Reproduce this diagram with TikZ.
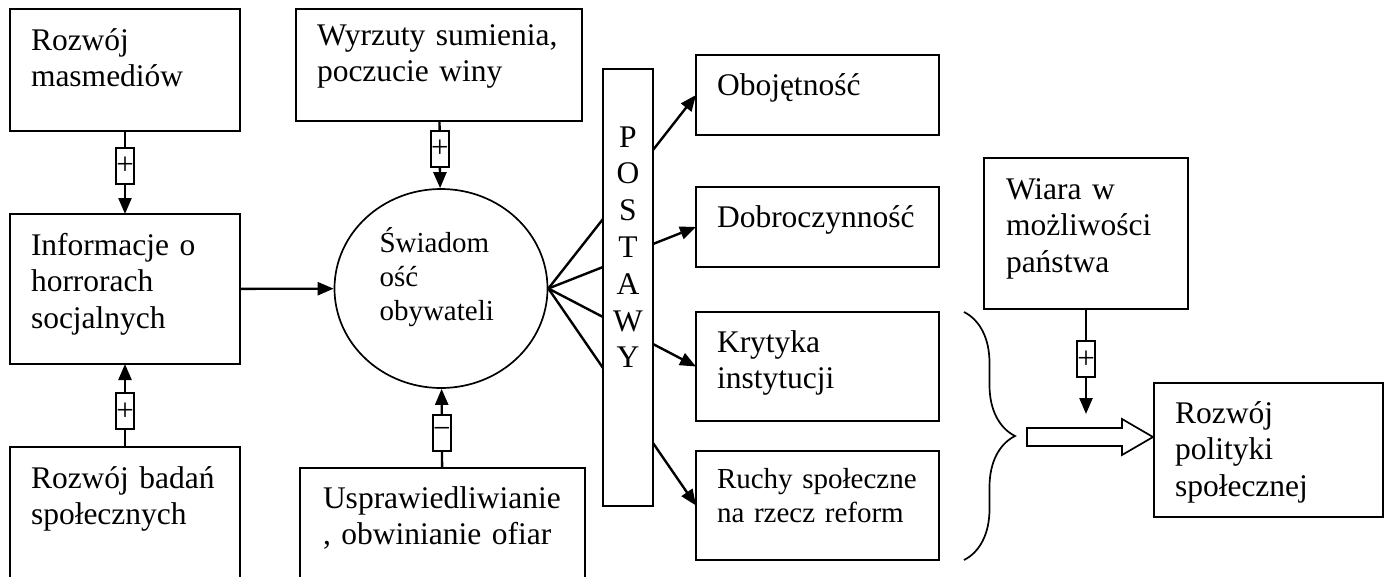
\documentclass[tikz,border=0pt]{standalone}
\usepackage{fontspec}
\setmainfont{Liberation Serif}
\usetikzlibrary{arrows.meta,shapes.geometric,decorations.pathreplacing}

\newcommand{\boxfnt}{\fontsize{31.5}{36.5}\selectfont}
\newcommand{\circfnt}{\fontsize{29}{34}\selectfont}
\newcommand{\signfnt}{\fontsize{31}{31}\selectfont}

\tikzset{
  box/.style  = {draw, line width=2.2pt, anchor=north west, align=left,
                 inner xsep=21pt, inner ysep=0pt, outer sep=0pt, font=\boxfnt},
  sign/.style = {draw, fill=white, line width=2pt, minimum width=18pt,
                 minimum height=36pt, inner sep=0pt, font=\signfnt},
  link/.style = {line width=2.4pt, -{Triangle[length=16pt,width=13pt]}}
}

\begin{document}
\begin{tikzpicture}[x=1pt, y=-1pt]
	\useasboundingbox (0,0) rectangle (1384,576);

	% Left column
	\node[box, text width=188pt, text height=41pt, text depth=81pt]  (masmed) at (10,9)   {Rozwój\\masmediów};
	\node[box, text width=188pt, text height=41pt, text depth=109pt] (info)   at (10,214) {Informacje o\\horrorach\\socjalnych};
	\node[box, text width=188pt, text height=41pt, text depth=119pt] (badan)  at (10,447) {Rozwój badań\\społecznych};

	% Middle column
	\node[box, text width=244pt, text height=36pt, text depth=76pt] (wyrzuty) at (296,9) {Wyrzuty sumienia,\\poczucie winy};
	\node[box, inner xsep=23pt, text width=239pt, text height=40pt, text depth=100pt] (uspr) at (300,468) {Usprawiedliwianie\\, obwinianie ofiar};
	\node[ellipse, draw, line width=1.7pt, minimum width=213pt, minimum height=199pt,
	      inner sep=0pt, align=left, text width=123pt, text height=30pt, text depth=103pt,
	      font=\circfnt] (circ) at (441,288.5) {Świadom\\ość\\obywateli};

	% Postawy
	\node[box, align=center, inner xsep=0pt, text width=50pt, text height=78pt, text depth=359pt,
	      font=\fontsize{31.5}{36.8}\selectfont] (postawy) at (603,69) {P\\O\\S\\T\\A\\W\\Y};

	% Right column
	\node[box, text width=201pt, text height=40pt, text depth=40pt] (obojet)  at (696,55)  {Obojętność};
	\node[box, text width=201pt, text height=40pt, text depth=40pt] (dobro)   at (696,187) {Dobroczynność};
	\node[box, text width=201pt, text height=40pt, text depth=69pt] (krytyka) at (696,312) {Krytyka\\instytucji};
	\node[box, text width=201pt, text height=37pt, text depth=72pt, font=\circfnt] (ruchy) at (696,451) {Ruchy społeczne\\na rzecz reform};

	\node[box, inner xsep=22pt, text width=160pt, text height=41pt, text depth=110pt] (wiara) at (984,158) {Wiara w\\możliwości\\państwa};
	\node[box, text width=187pt, text height=40pt, text depth=94pt] (polityka) at (1154,383) {Rozwój\\polityki\\społecznej};

	% Influences
	\draw[link] (masmed)  -- node[sign, pos=.42] {+} (info);
	\draw[link] (badan)   -- node[sign, pos=.43] {+} (info);
	\draw[link] (wyrzuty) -- node[sign, pos=.42] {+} (circ);
	\draw[link] (uspr)    -- node[sign, pos=.44] {−} (circ);
	\draw[link] (info) -- (circ);

	\coordinate (wtip) at (1086,414);
	\draw[link] (wiara) -- node[sign, pos=.48] {+} (wtip);

	% Circle to postawy
	\foreach \y [count=\i] in {219,267,317,368} {
		\coordinate (in\i) at (postawy.west |- 0,\y);
		\draw[line width=2.4pt] (circ.east) -- (in\i);
	}

	% Postawy to attitudes
	\foreach \y/\b [count=\i] in {150/obojet, 244/dobro, 344/krytyka, 443/ruchy} {
		\coordinate (out\i) at (postawy.east |- 0,\y);
		\draw[link] (out\i) -- (\b.west);
	}

	% Brace and hollow arrow
	\coordinate (brtop) at (964,312);
	\coordinate (brbot) at (964,560);
	\draw[line width=1.7pt, decorate, decoration={brace, amplitude=51pt}] (brtop) -- (brbot);
	\draw[line width=1.7pt] (1027,428) -- (1122,428) -- (1122,419) -- (1153,437)
		-- (1122,455) -- (1122,446) -- (1027,446) -- cycle;

\end{tikzpicture}
\end{document}
